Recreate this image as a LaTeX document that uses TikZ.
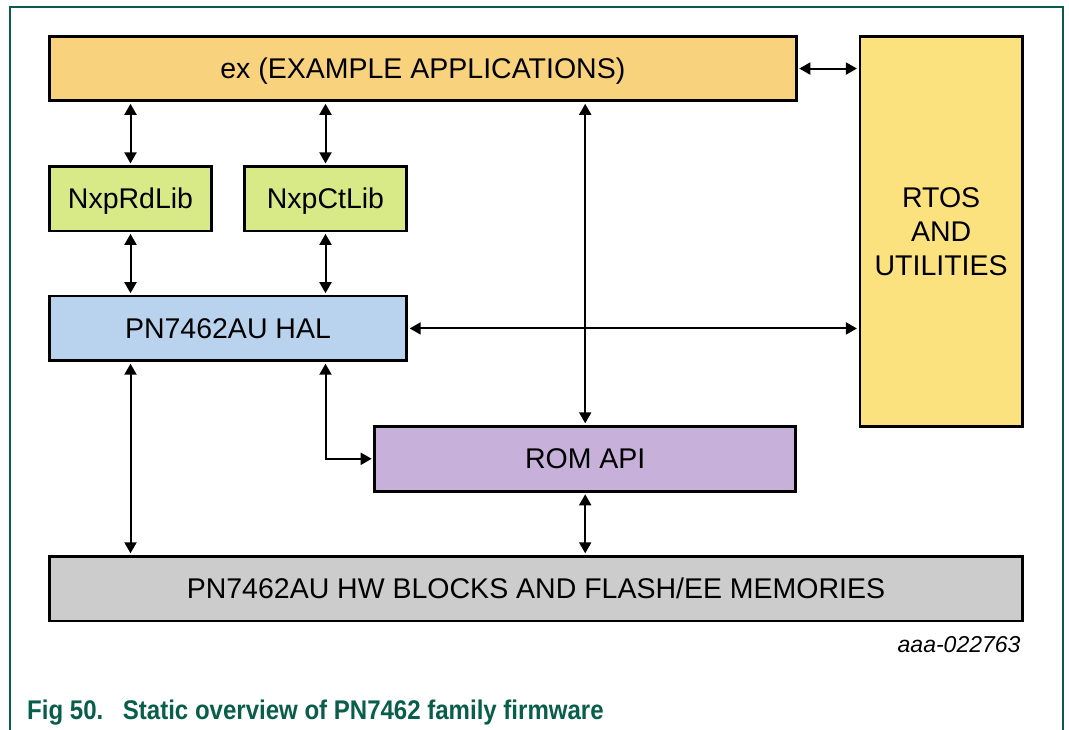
\documentclass[tikz,border=0pt]{standalone}
\usepackage{fontspec}
\setmainfont{Liberation Sans}
\usepackage{xcolor}
\usepackage{tikz}
\usetikzlibrary{arrows.meta,positioning}

\definecolor{nxpgreen}{RGB}{8,94,74}
\definecolor{exfill}{RGB}{249,210,125}
\definecolor{rtosfill}{RGB}{251,226,127}
\definecolor{libfill}{RGB}{216,234,135}
\definecolor{halfill}{RGB}{185,211,239}
\definecolor{romfill}{RGB}{199,177,218}
\definecolor{hwfill}{RGB}{204,204,204}

\begin{document}
\begin{tikzpicture}[
  x=1pt, y=1pt,
  box/.style={draw, line width=2.6pt, outer sep=0pt, inner sep=0pt, align=center, minimum height=64.5pt, text depth=0pt, font=\fontsize{28.5}{34}\selectfont},
  arrow/.style={{Triangle[length=11pt,width=12pt]}-{Triangle[length=11pt,width=12pt]}, line width=2pt, shorten <=3pt, shorten >=3pt},
  frame/.style={draw=nxpgreen, line width=1.5pt},
]
\useasboundingbox (0,0) rectangle (1069,-730);
\draw[frame] (10,-730) -- (10,-7) -- (1063,-7) -- (1063,-730);

\node[box, fill=exfill, minimum width=747pt, anchor=north west] (ex) at (49.3,-36.3) {ex (EXAMPLE APPLICATIONS)};
\node[box, text depth={}, fill=rtosfill, minimum width=162.4pt, minimum height=390.4pt, right=63.6pt of ex.north east, anchor=north west] (rtos) {RTOS\\AND\\UTILITIES};
\node[box, fill=libfill, minimum width=162.4pt, below=65.6pt of ex.south west, anchor=north west] (rdlib) {NxpRdLib};
\node[box, fill=libfill, minimum width=162.4pt, right=32.6pt of rdlib] (ctlib) {NxpCtLib};
\node[box, fill=halfill, minimum width=357.4pt, below=65.3pt of rdlib.south west, anchor=north west] (hal) {PN7462AU HAL};
\node[box, fill=romfill, minimum width=421pt, minimum height=65pt, anchor=north east] (rom) at (795.7,-426.3) {ROM API};
\node[box, fill=hwfill, minimum width=973.4pt, anchor=north west] (hw) at (49.3,-556.3) {PN7462AU HW BLOCKS AND FLASH/EE MEMORIES};

\draw[arrow] (rdlib.north) -- (rdlib.north |- ex.south);
\draw[arrow] (ctlib.north) -- (ctlib.north |- ex.south);
\draw[arrow] (rdlib.south) -- (rdlib.south |- hal.north);
\draw[arrow] (ctlib.south) -- (ctlib.south |- hal.north);
\draw[arrow] (ex.east) -- (ex.east -| rtos.west);
\draw[arrow] (hal.east) -- (hal.east -| rtos.west);
\draw[arrow] (rom.north) -- (rom.north |- ex.south);
\draw[arrow] (rdlib.south |- hal.south) -- (rdlib.south |- hw.north);
\draw[arrow] (ctlib.south |- hal.south) |- (rom.west);
\draw[arrow] (rom.south) -- (rom.south |- hw.north);

\node[anchor=base east, font=\itshape\fontsize{23}{28}\selectfont] (figid) at (1024,-652) {aaa-022763};
\node[anchor=base west, inner sep=0pt, text=nxpgreen, font=\bfseries\fontsize{27}{32}\selectfont] (caption) at (27,-719) {\scalebox{0.89}[1]{Fig 50.\hspace{22pt}Static overview of PN7462 family firmware}};

\end{tikzpicture}
\end{document}
